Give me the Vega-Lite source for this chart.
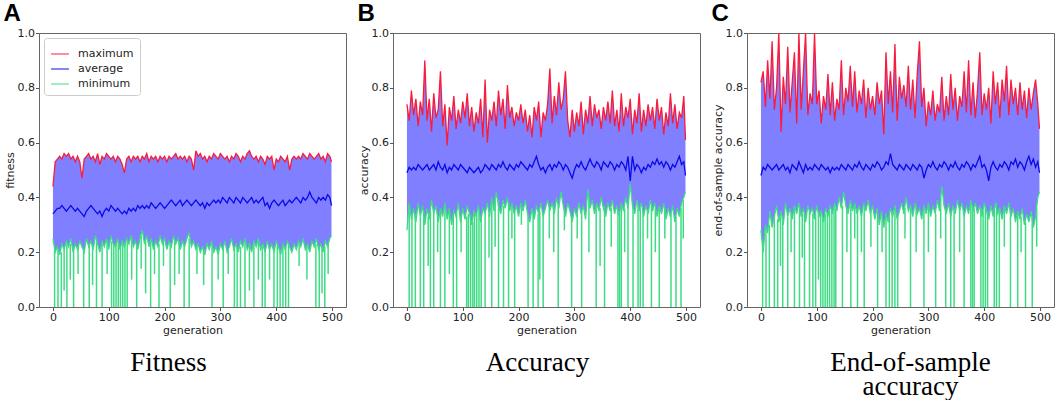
{
  "$schema": "https://vega.github.io/schema/vega-lite/v6.json",
  "background": "white",
  "padding": {"left": 3, "top": 1, "right": 4, "bottom": 0},
  "config": {
    "view": {"stroke": "#666", "strokeWidth": 1},
    "axis": {"labelFont": "DejaVu Sans", "labelFontSize": 11, "labelColor": "#222", "titleFont": "DejaVu Sans", "titleFontSize": 11, "titleFontWeight": "normal", "titleColor": "#222", "tickColor": "#555", "tickSize": 3.5, "domain": false, "grid": false, "labelPadding": 1, "titlePadding": 2},
    "line": {"strokeWidth": 1.3},
    "concat": {"spacing": 10}
  },
  "datasets": {
    "a": [
      {"g":0,"hi":0.44,"av":0.34,"lo":0.25},{"g":4,"hi":0.53,"av":0.35,"lo":0.20},{"g":8,"hi":0.54,"av":0.36,"lo":0.22},{"g":12,"hi":0.55,"av":0.36,"lo":0.19},
      {"g":16,"hi":0.54,"av":0.37,"lo":0.23},{"g":20,"hi":0.56,"av":0.36,"lo":0.21},{"g":24,"hi":0.55,"av":0.35,"lo":0.24},{"g":28,"hi":0.56,"av":0.36,"lo":0.22},
      {"g":32,"hi":0.54,"av":0.37,"lo":0.25},{"g":36,"hi":0.55,"av":0.36,"lo":0.20},{"g":40,"hi":0.53,"av":0.35,"lo":0.23},{"g":44,"hi":0.55,"av":0.36,"lo":0.21},
      {"g":48,"hi":0.53,"av":0.35,"lo":0.24},{"g":52,"hi":0.47,"av":0.34,"lo":0.22},{"g":56,"hi":0.54,"av":0.33,"lo":0.20},{"g":60,"hi":0.55,"av":0.35,"lo":0.25},
      {"g":64,"hi":0.56,"av":0.36,"lo":0.22},{"g":68,"hi":0.54,"av":0.37,"lo":0.24},{"g":72,"hi":0.55,"av":0.36,"lo":0.21},{"g":76,"hi":0.53,"av":0.35,"lo":0.26},
      {"g":80,"hi":0.56,"av":0.34,"lo":0.23},{"g":84,"hi":0.52,"av":0.35,"lo":0.20},{"g":88,"hi":0.55,"av":0.33,"lo":0.24},{"g":92,"hi":0.54,"av":0.35,"lo":0.22},
      {"g":96,"hi":0.56,"av":0.36,"lo":0.25},{"g":100,"hi":0.55,"av":0.35,"lo":0.21},{"g":104,"hi":0.54,"av":0.37,"lo":0.26},{"g":108,"hi":0.55,"av":0.36,"lo":0.23},
      {"g":112,"hi":0.53,"av":0.35,"lo":0.22},{"g":116,"hi":0.55,"av":0.36,"lo":0.25},{"g":120,"hi":0.54,"av":0.35,"lo":0.21},{"g":124,"hi":0.52,"av":0.34,"lo":0.24},
      {"g":128,"hi":0.49,"av":0.35,"lo":0.22},{"g":132,"hi":0.54,"av":0.34,"lo":0.25},{"g":136,"hi":0.55,"av":0.36,"lo":0.23},{"g":140,"hi":0.53,"av":0.35,"lo":0.26},
      {"g":144,"hi":0.55,"av":0.36,"lo":0.22},{"g":148,"hi":0.54,"av":0.35,"lo":0.24},{"g":152,"hi":0.55,"av":0.37,"lo":0.21},{"g":156,"hi":0.53,"av":0.36,"lo":0.25},
      {"g":160,"hi":0.55,"av":0.37,"lo":0.28},{"g":164,"hi":0.54,"av":0.36,"lo":0.23},{"g":168,"hi":0.56,"av":0.37,"lo":0.26},{"g":172,"hi":0.53,"av":0.36,"lo":0.22},
      {"g":176,"hi":0.55,"av":0.38,"lo":0.25},{"g":180,"hi":0.54,"av":0.37,"lo":0.21},{"g":184,"hi":0.55,"av":0.36,"lo":0.24},{"g":188,"hi":0.53,"av":0.37,"lo":0.22},
      {"g":192,"hi":0.55,"av":0.38,"lo":0.26},{"g":196,"hi":0.54,"av":0.37,"lo":0.23},{"g":200,"hi":0.55,"av":0.36,"lo":0.25},{"g":204,"hi":0.53,"av":0.37,"lo":0.21},
      {"g":208,"hi":0.55,"av":0.38,"lo":0.24},{"g":212,"hi":0.54,"av":0.39,"lo":0.22},{"g":216,"hi":0.55,"av":0.38,"lo":0.26},{"g":220,"hi":0.56,"av":0.37,"lo":0.23},
      {"g":224,"hi":0.54,"av":0.38,"lo":0.25},{"g":228,"hi":0.55,"av":0.39,"lo":0.21},{"g":232,"hi":0.54,"av":0.37,"lo":0.24},{"g":236,"hi":0.55,"av":0.38,"lo":0.22},
      {"g":240,"hi":0.53,"av":0.39,"lo":0.25},{"g":244,"hi":0.55,"av":0.38,"lo":0.27},{"g":248,"hi":0.54,"av":0.37,"lo":0.22},{"g":252,"hi":0.50,"av":0.38,"lo":0.24},
      {"g":256,"hi":0.57,"av":0.39,"lo":0.21},{"g":260,"hi":0.55,"av":0.38,"lo":0.23},{"g":264,"hi":0.56,"av":0.37,"lo":0.20},{"g":268,"hi":0.54,"av":0.38,"lo":0.22},
      {"g":272,"hi":0.55,"av":0.36,"lo":0.19},{"g":276,"hi":0.53,"av":0.38,"lo":0.23},{"g":280,"hi":0.55,"av":0.37,"lo":0.21},{"g":284,"hi":0.54,"av":0.38,"lo":0.24},
      {"g":288,"hi":0.56,"av":0.39,"lo":0.20},{"g":292,"hi":0.55,"av":0.38,"lo":0.22},{"g":296,"hi":0.54,"av":0.39,"lo":0.19},{"g":300,"hi":0.56,"av":0.38,"lo":0.23},
      {"g":304,"hi":0.55,"av":0.40,"lo":0.21},{"g":308,"hi":0.54,"av":0.39,"lo":0.24},{"g":312,"hi":0.55,"av":0.38,"lo":0.20},{"g":316,"hi":0.53,"av":0.40,"lo":0.22},
      {"g":320,"hi":0.55,"av":0.39,"lo":0.25},{"g":324,"hi":0.54,"av":0.38,"lo":0.21},{"g":328,"hi":0.56,"av":0.40,"lo":0.23},{"g":332,"hi":0.55,"av":0.39,"lo":0.20},
      {"g":336,"hi":0.53,"av":0.38,"lo":0.24},{"g":340,"hi":0.55,"av":0.40,"lo":0.22},{"g":344,"hi":0.54,"av":0.39,"lo":0.25},{"g":348,"hi":0.56,"av":0.38,"lo":0.21},
      {"g":352,"hi":0.57,"av":0.39,"lo":0.23},{"g":356,"hi":0.55,"av":0.40,"lo":0.20},{"g":360,"hi":0.54,"av":0.38,"lo":0.24},{"g":364,"hi":0.55,"av":0.39,"lo":0.22},
      {"g":368,"hi":0.53,"av":0.38,"lo":0.25},{"g":372,"hi":0.55,"av":0.39,"lo":0.21},{"g":376,"hi":0.54,"av":0.40,"lo":0.23},{"g":380,"hi":0.52,"av":0.37,"lo":0.20},
      {"g":384,"hi":0.55,"av":0.38,"lo":0.24},{"g":388,"hi":0.54,"av":0.36,"lo":0.21},{"g":392,"hi":0.55,"av":0.38,"lo":0.23},{"g":396,"hi":0.50,"av":0.39,"lo":0.20},
      {"g":400,"hi":0.54,"av":0.38,"lo":0.24},{"g":404,"hi":0.53,"av":0.37,"lo":0.22},{"g":408,"hi":0.55,"av":0.38,"lo":0.19},{"g":412,"hi":0.54,"av":0.39,"lo":0.23},
      {"g":416,"hi":0.53,"av":0.37,"lo":0.21},{"g":420,"hi":0.55,"av":0.38,"lo":0.24},{"g":424,"hi":0.50,"av":0.39,"lo":0.22},{"g":428,"hi":0.54,"av":0.38,"lo":0.20},
      {"g":432,"hi":0.55,"av":0.39,"lo":0.23},{"g":436,"hi":0.54,"av":0.40,"lo":0.21},{"g":440,"hi":0.55,"av":0.39,"lo":0.24},{"g":444,"hi":0.54,"av":0.38,"lo":0.22},
      {"g":448,"hi":0.56,"av":0.40,"lo":0.25},{"g":452,"hi":0.55,"av":0.39,"lo":0.21},{"g":456,"hi":0.54,"av":0.40,"lo":0.23},{"g":460,"hi":0.56,"av":0.42,"lo":0.20},
      {"g":464,"hi":0.55,"av":0.40,"lo":0.24},{"g":468,"hi":0.54,"av":0.39,"lo":0.22},{"g":472,"hi":0.55,"av":0.38,"lo":0.25},{"g":476,"hi":0.56,"av":0.40,"lo":0.21},
      {"g":480,"hi":0.54,"av":0.39,"lo":0.23},{"g":484,"hi":0.55,"av":0.40,"lo":0.20},{"g":488,"hi":0.53,"av":0.39,"lo":0.24},{"g":492,"hi":0.56,"av":0.41,"lo":0.22},
      {"g":496,"hi":0.55,"av":0.40,"lo":0.25},{"g":499,"hi":0.53,"av":0.37,"lo":0.26}
    ],
    "as": [
      {"g":3,"v":0,"b":0.22},{"g":9,"v":0,"b":0.21},{"g":15,"v":0,"b":0.2},{"g":20,"v":0.06,"b":0.21},{"g":25,"v":0,"b":0.23},{"g":31,"v":0.1,"b":0.23},
      {"g":37,"v":0,"b":0.22},{"g":45,"v":0.12,"b":0.22},{"g":55,"v":0,"b":0.21},{"g":65,"v":0,"b":0.23},{"g":71,"v":0.08,"b":0.22},{"g":78,"v":0,"b":0.24},
      {"g":88,"v":0,"b":0.23},{"g":97,"v":0.12,"b":0.24},{"g":105,"v":0,"b":0.24},{"g":109,"v":0,"b":0.23},{"g":113,"v":0,"b":0.23},{"g":117,"v":0,"b":0.24},
      {"g":121,"v":0,"b":0.22},{"g":125,"v":0,"b":0.23},{"g":129,"v":0,"b":0.23},{"g":133,"v":0,"b":0.24},{"g":141,"v":0.1,"b":0.25},{"g":150,"v":0,"b":0.23},
      {"g":158,"v":0.14,"b":0.26},{"g":166,"v":0.05,"b":0.24},{"g":175,"v":0,"b":0.24},{"g":182,"v":0.12,"b":0.23},{"g":190,"v":0,"b":0.23},{"g":198,"v":0.15,"b":0.24},
      {"g":210,"v":0,"b":0.23},{"g":218,"v":0.08,"b":0.24},{"g":226,"v":0.12,"b":0.24},{"g":235,"v":0,"b":0.23},{"g":244,"v":0,"b":0.25},{"g":258,"v":0.12,"b":0.22},
      {"g":270,"v":0.08,"b":0.21},{"g":285,"v":0,"b":0.23},{"g":296,"v":0.1,"b":0.21},{"g":305,"v":0,"b":0.22},{"g":314,"v":0.12,"b":0.21},{"g":325,"v":0,"b":0.22},
      {"g":330,"v":0,"b":0.22},{"g":336,"v":0,"b":0.22},{"g":344,"v":0,"b":0.24},{"g":352,"v":0.06,"b":0.23},{"g":360,"v":0,"b":0.23},{"g":368,"v":0.1,"b":0.24},
      {"g":375,"v":0,"b":0.22},{"g":380,"v":0,"b":0.21},{"g":388,"v":0.1,"b":0.22},{"g":396,"v":0,"b":0.21},{"g":402,"v":0,"b":0.23},{"g":407,"v":0,"b":0.21},
      {"g":412,"v":0,"b":0.22},{"g":417,"v":0,"b":0.22},{"g":422,"v":0,"b":0.23},{"g":441,"v":0.15,"b":0.23},{"g":455,"v":0.1,"b":0.22},{"g":471,"v":0,"b":0.23},
      {"g":477,"v":0,"b":0.22},{"g":482,"v":0.05,"b":0.22},{"g":487,"v":0,"b":0.22},{"g":493,"v":0.12,"b":0.23}
    ],
    "b": [
      {"g":0,"hi":0.74,"av":0.49,"lo":0.28},{"g":4,"hi":0.68,"av":0.51,"lo":0.38},{"g":8,"hi":0.79,"av":0.50,"lo":0.32},{"g":12,"hi":0.70,"av":0.51,"lo":0.36},
      {"g":16,"hi":0.76,"av":0.50,"lo":0.31},{"g":20,"hi":0.66,"av":0.52,"lo":0.38},{"g":24,"hi":0.75,"av":0.51,"lo":0.33},{"g":28,"hi":0.70,"av":0.50,"lo":0.37},
      {"g":32,"hi":0.90,"av":0.51,"lo":0.30},{"g":36,"hi":0.68,"av":0.52,"lo":0.36},{"g":40,"hi":0.76,"av":0.50,"lo":0.32},{"g":44,"hi":0.64,"av":0.51,"lo":0.39},
      {"g":48,"hi":0.78,"av":0.52,"lo":0.34},{"g":52,"hi":0.69,"av":0.50,"lo":0.37},{"g":56,"hi":0.72,"av":0.53,"lo":0.31},{"g":60,"hi":0.86,"av":0.51,"lo":0.36},
      {"g":64,"hi":0.66,"av":0.50,"lo":0.33},{"g":68,"hi":0.74,"av":0.52,"lo":0.38},{"g":72,"hi":0.59,"av":0.49,"lo":0.32},{"g":76,"hi":0.73,"av":0.51,"lo":0.36},
      {"g":80,"hi":0.68,"av":0.50,"lo":0.30},{"g":84,"hi":0.77,"av":0.52,"lo":0.35},{"g":88,"hi":0.65,"av":0.51,"lo":0.33},{"g":92,"hi":0.72,"av":0.50,"lo":0.38},
      {"g":96,"hi":0.67,"av":0.52,"lo":0.31},{"g":100,"hi":0.75,"av":0.51,"lo":0.36},{"g":104,"hi":0.69,"av":0.50,"lo":0.32},{"g":108,"hi":0.78,"av":0.49,"lo":0.37},
      {"g":112,"hi":0.66,"av":0.51,"lo":0.34},{"g":116,"hi":0.73,"av":0.50,"lo":0.30},{"g":120,"hi":0.64,"av":0.49,"lo":0.35},{"g":124,"hi":0.71,"av":0.50,"lo":0.33},
      {"g":128,"hi":0.67,"av":0.51,"lo":0.37},{"g":132,"hi":0.76,"av":0.49,"lo":0.31},{"g":136,"hi":0.62,"av":0.50,"lo":0.36},{"g":140,"hi":0.83,"av":0.52,"lo":0.34},
      {"g":144,"hi":0.60,"av":0.51,"lo":0.38},{"g":148,"hi":0.72,"av":0.50,"lo":0.33},{"g":152,"hi":0.68,"av":0.52,"lo":0.40},{"g":156,"hi":0.75,"av":0.51,"lo":0.35},
      {"g":160,"hi":0.66,"av":0.50,"lo":0.42},{"g":164,"hi":0.79,"av":0.52,"lo":0.37},{"g":168,"hi":0.70,"av":0.51,"lo":0.34},{"g":172,"hi":0.76,"av":0.53,"lo":0.39},
      {"g":176,"hi":0.65,"av":0.51,"lo":0.36},{"g":180,"hi":0.81,"av":0.50,"lo":0.40},{"g":184,"hi":0.69,"av":0.52,"lo":0.35},{"g":188,"hi":0.73,"av":0.51,"lo":0.38},
      {"g":192,"hi":0.66,"av":0.50,"lo":0.34},{"g":196,"hi":0.71,"av":0.52,"lo":0.37},{"g":200,"hi":0.68,"av":0.51,"lo":0.33},{"g":204,"hi":0.74,"av":0.53,"lo":0.38},
      {"g":208,"hi":0.67,"av":0.52,"lo":0.35},{"g":212,"hi":0.72,"av":0.51,"lo":0.39},{"g":216,"hi":0.64,"av":0.50,"lo":0.34},{"g":220,"hi":0.70,"av":0.52,"lo":0.31},
      {"g":224,"hi":0.62,"av":0.51,"lo":0.36},{"g":228,"hi":0.73,"av":0.53,"lo":0.32},{"g":232,"hi":0.68,"av":0.55,"lo":0.37},{"g":236,"hi":0.75,"av":0.52,"lo":0.34},
      {"g":240,"hi":0.62,"av":0.50,"lo":0.38},{"g":244,"hi":0.71,"av":0.51,"lo":0.33},{"g":248,"hi":0.68,"av":0.49,"lo":0.36},{"g":252,"hi":0.74,"av":0.51,"lo":0.39},
      {"g":256,"hi":0.87,"av":0.52,"lo":0.35},{"g":260,"hi":0.67,"av":0.50,"lo":0.38},{"g":264,"hi":0.77,"av":0.52,"lo":0.34},{"g":268,"hi":0.70,"av":0.51,"lo":0.40},
      {"g":272,"hi":0.82,"av":0.53,"lo":0.36},{"g":276,"hi":0.72,"av":0.52,"lo":0.42},{"g":280,"hi":0.76,"av":0.50,"lo":0.37},{"g":284,"hi":0.86,"av":0.52,"lo":0.33},
      {"g":288,"hi":0.68,"av":0.51,"lo":0.38},{"g":292,"hi":0.62,"av":0.49,"lo":0.35},{"g":296,"hi":0.72,"av":0.47,"lo":0.31},{"g":300,"hi":0.64,"av":0.50,"lo":0.36},
      {"g":304,"hi":0.71,"av":0.52,"lo":0.33},{"g":308,"hi":0.66,"av":0.51,"lo":0.38},{"g":312,"hi":0.75,"av":0.53,"lo":0.34},{"g":316,"hi":0.63,"av":0.51,"lo":0.37},
      {"g":320,"hi":0.72,"av":0.50,"lo":0.32},{"g":324,"hi":0.67,"av":0.52,"lo":0.43},{"g":328,"hi":0.77,"av":0.54,"lo":0.36},{"g":332,"hi":0.66,"av":0.52,"lo":0.39},
      {"g":336,"hi":0.74,"av":0.51,"lo":0.34},{"g":340,"hi":0.69,"av":0.53,"lo":0.38},{"g":344,"hi":0.72,"av":0.52,"lo":0.35},{"g":348,"hi":0.65,"av":0.50,"lo":0.40},
      {"g":352,"hi":0.73,"av":0.53,"lo":0.36},{"g":356,"hi":0.68,"av":0.52,"lo":0.33},{"g":360,"hi":0.75,"av":0.51,"lo":0.38},{"g":364,"hi":0.67,"av":0.53,"lo":0.35},
      {"g":368,"hi":0.79,"av":0.52,"lo":0.39},{"g":372,"hi":0.66,"av":0.50,"lo":0.34},{"g":376,"hi":0.72,"av":0.52,"lo":0.37},{"g":380,"hi":0.64,"av":0.51,"lo":0.33},
      {"g":384,"hi":0.78,"av":0.53,"lo":0.38},{"g":388,"hi":0.66,"av":0.52,"lo":0.35},{"g":392,"hi":0.73,"av":0.50,"lo":0.40},{"g":396,"hi":0.69,"av":0.55,"lo":0.36},
      {"g":400,"hi":0.76,"av":0.46,"lo":0.45},{"g":404,"hi":0.63,"av":0.55,"lo":0.37},{"g":408,"hi":0.72,"av":0.50,"lo":0.34},{"g":412,"hi":0.67,"av":0.52,"lo":0.39},
      {"g":416,"hi":0.78,"av":0.51,"lo":0.35},{"g":420,"hi":0.64,"av":0.49,"lo":0.38},{"g":424,"hi":0.72,"av":0.51,"lo":0.33},{"g":428,"hi":0.66,"av":0.50,"lo":0.37},
      {"g":432,"hi":0.74,"av":0.52,"lo":0.34},{"g":436,"hi":0.68,"av":0.51,"lo":0.39},{"g":440,"hi":0.73,"av":0.53,"lo":0.35},{"g":444,"hi":0.65,"av":0.52,"lo":0.38},
      {"g":448,"hi":0.76,"av":0.54,"lo":0.33},{"g":452,"hi":0.68,"av":0.52,"lo":0.37},{"g":456,"hi":0.73,"av":0.53,"lo":0.34},{"g":460,"hi":0.63,"av":0.51,"lo":0.38},
      {"g":464,"hi":0.71,"av":0.53,"lo":0.32},{"g":468,"hi":0.66,"av":0.52,"lo":0.36},{"g":472,"hi":0.78,"av":0.50,"lo":0.33},{"g":476,"hi":0.67,"av":0.52,"lo":0.37},
      {"g":480,"hi":0.74,"av":0.51,"lo":0.31},{"g":484,"hi":0.65,"av":0.53,"lo":0.36},{"g":488,"hi":0.71,"av":0.55,"lo":0.33},{"g":492,"hi":0.69,"av":0.52,"lo":0.38},
      {"g":496,"hi":0.77,"av":0.53,"lo":0.40},{"g":499,"hi":0.61,"av":0.48,"lo":0.42}
    ],
    "bs": [
      {"g":4,"v":0,"b":0.36},{"g":9,"v":0,"b":0.33},{"g":15,"v":0,"b":0.34},{"g":24,"v":0,"b":0.33},{"g":30,"v":0,"b":0.35},{"g":38,"v":0.15,"b":0.33},
      {"g":42,"v":0,"b":0.35},{"g":48,"v":0,"b":0.35},{"g":55,"v":0.2,"b":0.33},{"g":60,"v":0,"b":0.35},{"g":68,"v":0,"b":0.37},{"g":76,"v":0.12,"b":0.35},
      {"g":83,"v":0,"b":0.34},{"g":89,"v":0,"b":0.34},{"g":97,"v":0.2,"b":0.33},{"g":107,"v":0,"b":0.33},{"g":110,"v":0,"b":0.34},{"g":114,"v":0,"b":0.34},
      {"g":118,"v":0,"b":0.31},{"g":121,"v":0,"b":0.34},{"g":125,"v":0,"b":0.34},{"g":129,"v":0,"b":0.35},{"g":133,"v":0,"b":0.33},{"g":140,"v":0,"b":0.35},
      {"g":147,"v":0.18,"b":0.34},{"g":152,"v":0,"b":0.39},{"g":158,"v":0.22,"b":0.4},{"g":164,"v":0,"b":0.39},{"g":173,"v":0,"b":0.37},{"g":182,"v":0,"b":0.38},
      {"g":188,"v":0.25,"b":0.37},{"g":193,"v":0,"b":0.35},{"g":205,"v":0.3,"b":0.37},{"g":217,"v":0,"b":0.34},{"g":226,"v":0,"b":0.35},{"g":235,"v":0,"b":0.34},
      {"g":238,"v":0.1,"b":0.35},{"g":244,"v":0,"b":0.34},{"g":255,"v":0.25,"b":0.36},{"g":263,"v":0.2,"b":0.37},{"g":271,"v":0,"b":0.37},{"g":282,"v":0.28,"b":0.36},
      {"g":295,"v":0,"b":0.33},{"g":305,"v":0.25,"b":0.34},{"g":313,"v":0,"b":0.35},{"g":326,"v":0.2,"b":0.4},{"g":339,"v":0,"b":0.37},{"g":346,"v":0.15,"b":0.36},
      {"g":354,"v":0,"b":0.37},{"g":366,"v":0.22,"b":0.36},{"g":378,"v":0,"b":0.35},{"g":381,"v":0,"b":0.34},{"g":384,"v":0,"b":0.37},{"g":390,"v":0.2,"b":0.36},
      {"g":396,"v":0,"b":0.37},{"g":405,"v":0,"b":0.37},{"g":414,"v":0,"b":0.37},{"g":418,"v":0,"b":0.36},{"g":423,"v":0,"b":0.35},{"g":431,"v":0.25,"b":0.35},
      {"g":438,"v":0,"b":0.37},{"g":445,"v":0.2,"b":0.36},{"g":452,"v":0,"b":0.36},{"g":462,"v":0.25,"b":0.36},{"g":473,"v":0,"b":0.34},{"g":482,"v":0,"b":0.33},
      {"g":491,"v":0,"b":0.36},{"g":495,"v":0.25,"b":0.39}
    ],
    "c": [
      {"g":0,"hi":0.82,"av":0.48,"lo":0.28},{"g":4,"hi":0.86,"av":0.51,"lo":0.20},{"g":8,"hi":0.73,"av":0.50,"lo":0.30},{"g":12,"hi":0.90,"av":0.52,"lo":0.27},
      {"g":16,"hi":0.76,"av":0.51,"lo":0.35},{"g":20,"hi":0.97,"av":0.50,"lo":0.29},{"g":24,"hi":0.72,"av":0.51,"lo":0.33},{"g":28,"hi":0.80,"av":0.52,"lo":0.37},
      {"g":32,"hi":1.00,"av":0.50,"lo":0.31},{"g":36,"hi":0.64,"av":0.51,"lo":0.35},{"g":40,"hi":0.84,"av":0.52,"lo":0.30},{"g":44,"hi":0.74,"av":0.50,"lo":0.38},
      {"g":48,"hi":0.95,"av":0.51,"lo":0.33},{"g":52,"hi":0.71,"av":0.49,"lo":0.36},{"g":56,"hi":0.82,"av":0.52,"lo":0.32},{"g":60,"hi":0.93,"av":0.51,"lo":0.37},
      {"g":64,"hi":0.67,"av":0.50,"lo":0.34},{"g":68,"hi":1.00,"av":0.53,"lo":0.38},{"g":72,"hi":0.72,"av":0.51,"lo":0.33},{"g":76,"hi":0.86,"av":0.49,"lo":0.36},
      {"g":80,"hi":1.00,"av":0.52,"lo":0.31},{"g":84,"hi":0.70,"av":0.50,"lo":0.37},{"g":88,"hi":0.78,"av":0.51,"lo":0.34},{"g":92,"hi":0.74,"av":0.50,"lo":0.36},
      {"g":96,"hi":1.00,"av":0.52,"lo":0.32},{"g":100,"hi":0.74,"av":0.51,"lo":0.37},{"g":104,"hi":0.79,"av":0.50,"lo":0.33},{"g":108,"hi":0.67,"av":0.52,"lo":0.35},
      {"g":112,"hi":0.77,"av":0.51,"lo":0.31},{"g":116,"hi":0.72,"av":0.50,"lo":0.36},{"g":120,"hi":0.85,"av":0.51,"lo":0.33},{"g":124,"hi":0.70,"av":0.49,"lo":0.37},
      {"g":128,"hi":0.82,"av":0.51,"lo":0.34},{"g":132,"hi":0.68,"av":0.50,"lo":0.38},{"g":136,"hi":0.76,"av":0.51,"lo":0.35},{"g":140,"hi":0.72,"av":0.50,"lo":0.40},
      {"g":144,"hi":0.90,"av":0.52,"lo":0.36},{"g":148,"hi":0.70,"av":0.51,"lo":0.42},{"g":152,"hi":0.80,"av":0.50,"lo":0.37},{"g":156,"hi":0.75,"av":0.52,"lo":0.34},
      {"g":160,"hi":0.88,"av":0.51,"lo":0.39},{"g":164,"hi":0.73,"av":0.50,"lo":0.35},{"g":168,"hi":0.86,"av":0.52,"lo":0.38},{"g":172,"hi":0.71,"av":0.51,"lo":0.34},
      {"g":176,"hi":0.79,"av":0.53,"lo":0.37},{"g":180,"hi":0.74,"av":0.51,"lo":0.33},{"g":184,"hi":0.83,"av":0.50,"lo":0.38},{"g":188,"hi":0.69,"av":0.52,"lo":0.35},
      {"g":192,"hi":0.80,"av":0.51,"lo":0.39},{"g":196,"hi":0.72,"av":0.50,"lo":0.34},{"g":200,"hi":0.77,"av":0.52,"lo":0.37},{"g":204,"hi":0.70,"av":0.51,"lo":0.32},
      {"g":208,"hi":0.82,"av":0.53,"lo":0.36},{"g":212,"hi":0.74,"av":0.52,"lo":0.30},{"g":216,"hi":0.79,"av":0.50,"lo":0.35},{"g":220,"hi":0.63,"av":0.51,"lo":0.29},
      {"g":224,"hi":0.93,"av":0.53,"lo":0.34},{"g":228,"hi":0.74,"av":0.52,"lo":0.31},{"g":232,"hi":0.86,"av":0.56,"lo":0.36},{"g":236,"hi":0.71,"av":0.52,"lo":0.33},
      {"g":240,"hi":0.96,"av":0.51,"lo":0.37},{"g":244,"hi":0.68,"av":0.50,"lo":0.32},{"g":248,"hi":0.84,"av":0.52,"lo":0.35},{"g":252,"hi":0.76,"av":0.51,"lo":0.38},
      {"g":256,"hi":0.81,"av":0.50,"lo":0.34},{"g":260,"hi":0.73,"av":0.52,"lo":0.40},{"g":264,"hi":0.88,"av":0.51,"lo":0.35},{"g":268,"hi":0.72,"av":0.50,"lo":0.37},
      {"g":272,"hi":0.83,"av":0.52,"lo":0.33},{"g":276,"hi":0.69,"av":0.51,"lo":0.38},{"g":280,"hi":0.85,"av":0.50,"lo":0.34},{"g":284,"hi":0.97,"av":0.52,"lo":0.36},
      {"g":288,"hi":0.73,"av":0.51,"lo":0.32},{"g":292,"hi":0.80,"av":0.47,"lo":0.37},{"g":296,"hi":0.66,"av":0.50,"lo":0.34},{"g":300,"hi":0.75,"av":0.52,"lo":0.38},
      {"g":304,"hi":0.70,"av":0.51,"lo":0.33},{"g":308,"hi":0.79,"av":0.53,"lo":0.37},{"g":312,"hi":0.68,"av":0.51,"lo":0.34},{"g":316,"hi":0.74,"av":0.50,"lo":0.39},
      {"g":320,"hi":0.71,"av":0.52,"lo":0.35},{"g":324,"hi":0.84,"av":0.51,"lo":0.44},{"g":328,"hi":0.68,"av":0.53,"lo":0.37},{"g":332,"hi":0.77,"av":0.52,"lo":0.34},
      {"g":336,"hi":0.70,"av":0.50,"lo":0.38},{"g":340,"hi":0.85,"av":0.52,"lo":0.33},{"g":344,"hi":0.72,"av":0.51,"lo":0.37},{"g":348,"hi":0.80,"av":0.53,"lo":0.34},
      {"g":352,"hi":0.68,"av":0.51,"lo":0.39},{"g":356,"hi":0.77,"av":0.50,"lo":0.35},{"g":360,"hi":0.73,"av":0.52,"lo":0.38},{"g":364,"hi":0.86,"av":0.51,"lo":0.33},
      {"g":368,"hi":0.71,"av":0.53,"lo":0.37},{"g":372,"hi":0.90,"av":0.52,"lo":0.34},{"g":376,"hi":0.70,"av":0.50,"lo":0.39},{"g":380,"hi":0.82,"av":0.52,"lo":0.35},
      {"g":384,"hi":0.69,"av":0.51,"lo":0.38},{"g":388,"hi":0.79,"av":0.53,"lo":0.34},{"g":392,"hi":0.93,"av":0.55,"lo":0.37},{"g":396,"hi":0.70,"av":0.51,"lo":0.33},
      {"g":400,"hi":0.78,"av":0.52,"lo":0.38},{"g":404,"hi":0.72,"av":0.50,"lo":0.35},{"g":408,"hi":0.80,"av":0.46,"lo":0.32},{"g":412,"hi":0.67,"av":0.51,"lo":0.37},
      {"g":416,"hi":0.86,"av":0.53,"lo":0.33},{"g":420,"hi":0.74,"av":0.51,"lo":0.38},{"g":424,"hi":0.82,"av":0.50,"lo":0.34},{"g":428,"hi":0.69,"av":0.52,"lo":0.36},
      {"g":432,"hi":0.83,"av":0.51,"lo":0.32},{"g":436,"hi":0.75,"av":0.53,"lo":0.37},{"g":440,"hi":0.88,"av":0.52,"lo":0.34},{"g":444,"hi":0.70,"av":0.50,"lo":0.38},
      {"g":448,"hi":0.83,"av":0.53,"lo":0.33},{"g":452,"hi":0.74,"av":0.52,"lo":0.36},{"g":456,"hi":0.80,"av":0.54,"lo":0.31},{"g":460,"hi":0.70,"av":0.51,"lo":0.35},
      {"g":464,"hi":0.82,"av":0.53,"lo":0.32},{"g":468,"hi":0.72,"av":0.52,"lo":0.36},{"g":472,"hi":0.79,"av":0.50,"lo":0.30},{"g":476,"hi":0.69,"av":0.53,"lo":0.34},
      {"g":480,"hi":0.80,"av":0.55,"lo":0.31},{"g":484,"hi":0.72,"av":0.52,"lo":0.35},{"g":488,"hi":0.78,"av":0.54,"lo":0.29},{"g":492,"hi":0.83,"av":0.51,"lo":0.33},
      {"g":496,"hi":0.74,"av":0.53,"lo":0.40},{"g":499,"hi":0.65,"av":0.49,"lo":0.42}
    ],
    "cs": [
      {"g":3,"v":0,"b":0.24},{"g":9,"v":0,"b":0.29},{"g":15,"v":0,"b":0.3},{"g":24,"v":0,"b":0.33},{"g":30,"v":0,"b":0.32},{"g":35,"v":0.15,"b":0.33},
      {"g":39,"v":0,"b":0.31},{"g":48,"v":0,"b":0.33},{"g":54,"v":0.2,"b":0.34},{"g":60,"v":0,"b":0.37},{"g":69,"v":0,"b":0.36},{"g":74,"v":0.18,"b":0.34},
      {"g":78,"v":0,"b":0.34},{"g":87,"v":0,"b":0.35},{"g":93,"v":0,"b":0.34},{"g":98,"v":0,"b":0.34},{"g":103,"v":0.1,"b":0.35},{"g":107,"v":0,"b":0.34},
      {"g":111,"v":0,"b":0.32},{"g":115,"v":0,"b":0.34},{"g":119,"v":0,"b":0.34},{"g":123,"v":0,"b":0.35},{"g":127,"v":0,"b":0.35},{"g":131,"v":0,"b":0.37},
      {"g":134,"v":0,"b":0.36},{"g":146,"v":0,"b":0.37},{"g":154,"v":0.2,"b":0.36},{"g":161,"v":0,"b":0.37},{"g":168,"v":0.25,"b":0.37},{"g":173,"v":0,"b":0.36},
      {"g":180,"v":0.2,"b":0.34},{"g":185,"v":0,"b":0.37},{"g":197,"v":0.22,"b":0.35},{"g":209,"v":0,"b":0.34},{"g":217,"v":0.2,"b":0.33},{"g":224,"v":0,"b":0.34},
      {"g":230,"v":0,"b":0.33},{"g":235,"v":0,"b":0.35},{"g":240,"v":0,"b":0.36},{"g":245,"v":0,"b":0.33},{"g":258,"v":0.25,"b":0.36},{"g":268,"v":0,"b":0.37},
      {"g":278,"v":0.2,"b":0.37},{"g":292,"v":0,"b":0.37},{"g":300,"v":0.2,"b":0.37},{"g":313,"v":0,"b":0.34},{"g":322,"v":0.25,"b":0.4},{"g":331,"v":0,"b":0.36},
      {"g":340,"v":0,"b":0.34},{"g":346,"v":0,"b":0.36},{"g":356,"v":0.2,"b":0.36},{"g":364,"v":0,"b":0.34},{"g":376,"v":0,"b":0.38},{"g":379,"v":0,"b":0.37},
      {"g":382,"v":0,"b":0.36},{"g":394,"v":0,"b":0.36},{"g":398,"v":0,"b":0.35},{"g":402,"v":0,"b":0.37},{"g":406,"v":0,"b":0.35},{"g":418,"v":0,"b":0.36},
      {"g":422,"v":0,"b":0.38},{"g":427,"v":0,"b":0.35},{"g":436,"v":0.22,"b":0.36},{"g":447,"v":0,"b":0.35},{"g":460,"v":0,"b":0.35},{"g":466,"v":0.2,"b":0.33},
      {"g":474,"v":0,"b":0.31},{"g":486,"v":0,"b":0.33},{"g":494,"v":0.22,"b":0.36}
    ]
  },
  "hconcat": [
    {
      "title": {"text": "A", "anchor": "start", "frame": "bounds", "font": "Liberation Sans", "fontSize": 24, "fontWeight": "bold", "color": "black", "offset": 1},
      "resolve": {"scale": {"color": "independent"}, "legend": {"color": "independent"}},
      "vconcat": [
        {
          "width": 307, "height": 274,
          "data": {"name": "a"},
          "title": {"text": "Fitness", "orient": "bottom", "frame": "group", "anchor": "middle", "dx": -24, "offset": 14, "font": "Liberation Serif", "fontSize": 27, "fontWeight": "normal", "color": "black"},
          "encoding": {"x": {"field": "g", "type": "quantitative", "scale": {"domain": [-25, 525], "nice": false, "zero": false}, "axis": {"values": [0, 100, 200, 300, 400, 500], "title": "generation"}}},
          "layer": [
            {"mark": {"type": "area", "color": "#7f7fff", "opacity": 1}, "encoding": {"y": {"field": "lo", "type": "quantitative", "scale": {"domain": [0, 1], "nice": false}, "axis": {"values": [0, 0.2, 0.4, 0.6, 0.8, 1], "format": ".1f"}, "title": "fitness"}, "y2": {"field": "hi"}}},
            {"data": {"name": "as"}, "mark": {"type": "rule", "color": "#3ddc84", "strokeWidth": 1.5}, "encoding": {"y": {"field": "v", "type": "quantitative", "title": "fitness"}, "y2": {"field": "b"}}},
            {"mark": "line", "encoding": {"y": {"field": "lo", "type": "quantitative", "title": "fitness"}, "color": {"datum": "minimum", "type": "nominal", "scale": {"domain": ["maximum", "average", "minimum"], "range": ["#fa1a3c", "#0a0ae8", "#3ddc84"]}, "legend": {"title": null, "orient": "top-left", "offset": 5, "fillColor": "white", "strokeColor": "#ccc", "padding": 6, "cornerRadius": 3, "symbolType": "stroke", "symbolSize": 320, "symbolStrokeWidth": 1.5, "symbolOpacity": 0.75, "labelFont": "DejaVu Sans", "labelFontSize": 11, "labelColor": "#222", "rowPadding": 0, "labelOffset": 8}}}},
            {"mark": "line", "encoding": {"y": {"field": "hi", "type": "quantitative", "title": "fitness"}, "color": {"datum": "maximum", "type": "nominal"}}},
            {"mark": "line", "encoding": {"y": {"field": "av", "type": "quantitative", "title": "fitness"}, "color": {"datum": "average", "type": "nominal"}}}
          ]
        }
      ]
    },
    {
      "title": {"text": "B", "anchor": "start", "frame": "bounds", "font": "Liberation Sans", "fontSize": 24, "fontWeight": "bold", "color": "black", "offset": 1},
      "vconcat": [
        {
          "width": 307, "height": 274,
          "data": {"name": "b"},
          "title": {"text": "Accuracy", "orient": "bottom", "frame": "group", "anchor": "middle", "dx": -9, "offset": 14, "font": "Liberation Serif", "fontSize": 27, "fontWeight": "normal", "color": "black"},
          "encoding": {"x": {"field": "g", "type": "quantitative", "scale": {"domain": [-25, 525], "nice": false, "zero": false}, "axis": {"values": [0, 100, 200, 300, 400, 500], "title": "generation"}}},
          "layer": [
            {"mark": {"type": "area", "color": "#7f7fff", "opacity": 1}, "encoding": {"y": {"field": "lo", "type": "quantitative", "scale": {"domain": [0, 1], "nice": false}, "axis": {"values": [0, 0.2, 0.4, 0.6, 0.8, 1], "format": ".1f"}, "title": "accuracy"}, "y2": {"field": "hi"}}},
            {"data": {"name": "bs"}, "mark": {"type": "rule", "color": "#3ddc84", "strokeWidth": 1.5}, "encoding": {"y": {"field": "v", "type": "quantitative", "title": "accuracy"}, "y2": {"field": "b"}}},
            {"mark": {"type": "line", "color": "#3ddc84"}, "encoding": {"y": {"field": "lo", "type": "quantitative", "title": "accuracy"}}},
            {"mark": {"type": "line", "color": "#fa1a3c"}, "encoding": {"y": {"field": "hi", "type": "quantitative", "title": "accuracy"}}},
            {"mark": {"type": "line", "color": "#0a0ae8"}, "encoding": {"y": {"field": "av", "type": "quantitative", "title": "accuracy"}}}
          ]
        }
      ]
    },
    {
      "title": {"text": "C", "anchor": "start", "frame": "bounds", "font": "Liberation Sans", "fontSize": 24, "fontWeight": "bold", "color": "black", "offset": 1},
      "vconcat": [
        {
          "width": 307, "height": 274,
          "data": {"name": "c"},
          "title": {"text": ["End-of-sample", "accuracy"], "orient": "bottom", "frame": "group", "anchor": "middle", "dx": 10, "offset": 14, "lineHeight": 24, "font": "Liberation Serif", "fontSize": 27, "fontWeight": "normal", "color": "black"},
          "encoding": {"x": {"field": "g", "type": "quantitative", "scale": {"domain": [-25, 525], "nice": false, "zero": false}, "axis": {"values": [0, 100, 200, 300, 400, 500], "title": "generation"}}},
          "layer": [
            {"mark": {"type": "area", "color": "#7f7fff", "opacity": 1}, "encoding": {"y": {"field": "lo", "type": "quantitative", "scale": {"domain": [0, 1], "nice": false}, "axis": {"values": [0, 0.2, 0.4, 0.6, 0.8, 1], "format": ".1f"}, "title": "end-of-sample accuracy"}, "y2": {"field": "hi"}}},
            {"data": {"name": "cs"}, "mark": {"type": "rule", "color": "#3ddc84", "strokeWidth": 1.5}, "encoding": {"y": {"field": "v", "type": "quantitative", "title": "end-of-sample accuracy"}, "y2": {"field": "b"}}},
            {"mark": {"type": "line", "color": "#3ddc84"}, "encoding": {"y": {"field": "lo", "type": "quantitative", "title": "end-of-sample accuracy"}}},
            {"mark": {"type": "line", "color": "#fa1a3c"}, "encoding": {"y": {"field": "hi", "type": "quantitative", "title": "end-of-sample accuracy"}}},
            {"mark": {"type": "line", "color": "#0a0ae8"}, "encoding": {"y": {"field": "av", "type": "quantitative", "title": "end-of-sample accuracy"}}}
          ]
        }
      ]
    }
  ]
}
